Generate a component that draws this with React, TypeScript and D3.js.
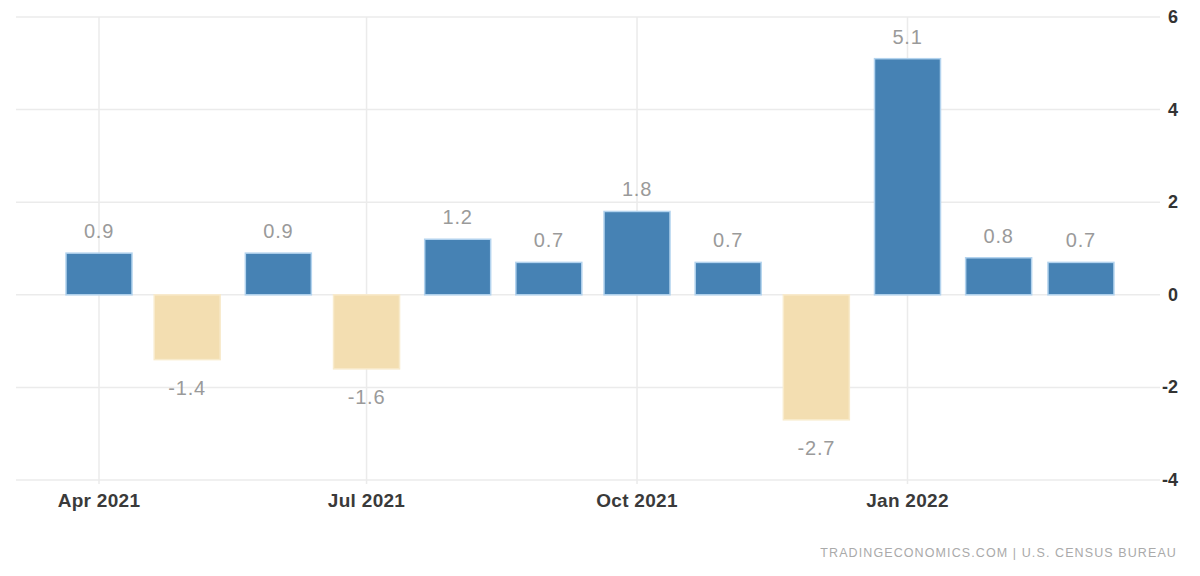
import React from "react";
import * as d3 from "d3";

const months: string[] = [
  "2021-04-01", "2021-05-01", "2021-06-01", "2021-07-01", "2021-08-01", "2021-09-01",
  "2021-10-01", "2021-11-01", "2021-12-01", "2022-01-01", "2022-02-01", "2022-03-01",
];
const values: number[] = [0.9, -1.4, 0.9, -1.6, 1.2, 0.7, 1.8, 0.7, -2.7, 5.1, 0.8, 0.7];
const xTickDates: string[] = ["2021-04-01", "2021-07-01", "2021-10-01", "2022-01-01"];
const xTickLabels: string[] = ["Apr 2021", "Jul 2021", "Oct 2021", "Jan 2022"];
const yTicks: number[] = [6, 4, 2, 0, -2, -4];
const sourceText = "TRADINGECONOMICS.COM  |  U.S.  CENSUS BUREAU";

const W = 1200;
const H = 576;
const plotLeft = 16;
const plotRight = 1160;
const parse = d3.timeParse("%Y-%m-%d");

export default function App() {
  const x = d3
    .scaleTime()
    .domain([parse("2021-04-01") as Date, parse("2022-01-01") as Date])
    .range([99, 907.5]);
  const y = d3.scaleLinear().domain([-4, 6]).range([480, 17]);
  const barW = 66;
  const font = "'Liberation Sans', Arial, sans-serif";

  return (
    <svg
      width={W}
      height={H}
      style={{ position: "absolute", left: 0, top: 0, background: "#fff" }}
      fontFamily={font}
    >
      {yTicks.map((t) => (
        <line
          key={"h" + t}
          x1={plotLeft}
          x2={plotRight}
          y1={y(t)}
          y2={y(t)}
          stroke="#ebebeb"
          strokeWidth={1.5}
        />
      ))}
      {xTickDates.map((d) => (
        <line
          key={"v" + d}
          x1={x(parse(d) as Date)}
          x2={x(parse(d) as Date)}
          y1={y(6)}
          y2={484}
          stroke="#ebebeb"
          strokeWidth={1.5}
        />
      ))}
      {values.map((v, i) => {
        const cx = x(parse(months[i]) as Date);
        const y0 = y(0);
        const y1 = y(v);
        const pos = v >= 0;
        return (
          <rect
            key={"b" + i}
            x={cx - barW / 2}
            y={Math.min(y0, y1)}
            width={barW}
            height={Math.abs(y1 - y0)}
            fill={pos ? "#4682b4" : "#f3deb1"}
            stroke={pos ? "#b3d3ee" : "#f8ebcc"}
            strokeWidth={1.5}
          />
        );
      })}
      {values.map((v, i) => {
        const cx = x(parse(months[i]) as Date);
        const ty = v >= 0 ? y(v) - 15 : y(v) + 35;
        return (
          <text
            key={"l" + i}
            x={cx}
            y={ty}
            textAnchor="middle"
            fontSize={20}
            fill="#9a9a9a"
            letterSpacing={0.8}
          >
            {v.toFixed(1)}
          </text>
        );
      })}
      {xTickDates.map((d, i) => (
        <text
          key={"xt" + d}
          x={x(parse(d) as Date)}
          y={507}
          textAnchor="middle"
          fontSize={19}
          fill="#3a3a3a"
          fontWeight={600}
          letterSpacing={0.3}
        >
          {xTickLabels[i]}
        </text>
      ))}
      {yTicks.map((t) => (
        <text
          key={"yt" + t}
          x={1178}
          y={y(t) + 6}
          textAnchor="end"
          fontSize={18}
          fill="#333"
          fontWeight={600}
        >
          {t}
        </text>
      ))}
      <text
        x={1177}
        y={557}
        textAnchor="end"
        fontSize={12.5}
        fill="#aaa"
        letterSpacing={1.1}
      >
        {sourceText}
      </text>
    </svg>
  );
}
